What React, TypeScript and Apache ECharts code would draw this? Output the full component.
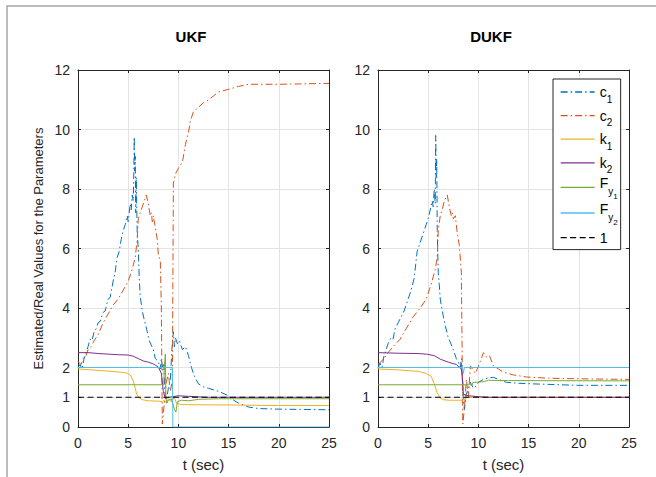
import React, { useEffect, useRef } from 'react';
import * as echarts from 'echarts';

type P = [number, number][];

const seriesNames = ['c1', 'c2', 'k1', 'k2', 'Fy1', 'Fy2', '1'];
const seriesColors = ['#0072BD', '#D95319', '#EDB120', '#7E2F8E', '#77AC30', '#4DBEEE', '#000000'];
const panelTitles = ['UKF', 'DUKF'];
const xTicks = [0, 5, 10, 15, 20, 25];
const yTicks = [0, 1, 2, 4, 6, 8, 10, 12];

const ukfC1: P = [[0,2.0],[0.2,2.1],[0.4,1.95],[0.6,2.3],[0.8,2.5],[1.0,2.7],[1.2,2.95],[1.4,2.9],[1.6,3.2],[1.8,3.3],[2.0,3.5],[2.2,3.55],[2.5,3.85],[2.7,3.9],[3.0,4.3],[3.2,4.35],[3.5,4.9],[3.7,5.2],[3.9,5.7],[4.1,5.9],[4.3,6.3],[4.5,6.6],[4.7,6.8],[4.9,7.1],[5.0,6.9],[5.2,7.5],[5.3,7.3],[5.4,7.8],[5.5,7.6],[5.55,8.3],[5.6,9.75],[5.65,8.6],[5.7,9.1],[5.75,7.2],[5.8,8.4],[5.9,6.5],[6.0,6.0],[6.1,5.0],[6.2,4.4],[6.4,3.9],[6.6,3.6],[6.9,3.2],[7.1,2.9],[7.3,2.75],[7.5,2.6],[7.7,2.3],[8.0,2.2],[8.2,1.95],[8.3,2.3],[8.45,1.9],[8.55,2.1],[8.65,1.2],[8.8,0.9],[9.0,1.3],[9.2,1.6],[9.35,2.6],[9.5,3.2],[9.6,2.7],[9.7,3.0],[9.9,2.8],[10.1,2.9],[10.4,2.6],[10.7,2.7],[11.0,2.4],[11.3,2.0],[11.6,1.7],[12.0,1.45],[12.5,1.35],[13.0,1.3],[14.0,1.2],[15.0,1.05],[15.5,0.9],[16.0,0.8],[17.0,0.67],[18.0,0.62],[20.0,0.6],[25.0,0.58]];
const ukfC2: P = [[0,2.2],[0.3,2.1],[0.5,2.3],[0.8,2.4],[1.0,2.6],[1.3,2.7],[1.6,2.9],[2.0,3.1],[2.5,3.5],[3.0,3.8],[3.5,4.1],[4.0,4.3],[4.5,4.6],[5.0,4.9],[5.4,5.3],[5.7,5.7],[5.9,6.3],[6.0,7.0],[6.2,7.2],[6.4,7.4],[6.6,7.6],[6.8,7.8],[7.0,7.5],[7.2,7.1],[7.3,7.2],[7.4,6.9],[7.5,7.1],[7.7,6.7],[7.9,6.3],[8.0,5.8],[8.2,5.6],[8.3,4.0],[8.4,0.1],[8.6,0.8],[8.8,1.5],[9.0,1.8],[9.2,1.2],[9.4,1.6],[9.5,8.2],[9.7,8.5],[10.0,8.7],[10.4,8.9],[10.7,9.5],[11.0,9.9],[11.2,10.3],[11.5,10.6],[12.0,10.75],[12.5,10.9],[13.0,11.0],[14.0,11.26],[15.0,11.35],[16.0,11.45],[17.0,11.52],[20.0,11.52],[25.0,11.55]];
const ukfK1: P = [[0,1.95],[1,1.93],[2,1.9],[3,1.88],[4,1.85],[4.8,1.82],[5.2,1.75],[5.5,1.55],[5.7,1.3],[5.85,1.1],[6.1,0.98],[6.4,0.92],[7,0.88],[8,0.87],[8.4,0.85],[8.6,0.9],[8.8,0.8],[9.0,0.95],[9.3,0.85],[9.6,1.0],[9.8,0.8],[10.2,0.76],[11,0.75],[15,0.74],[20,0.72],[25,0.72]];
const ukfK2: P = [[0,2.5],[1,2.5],[2,2.47],[3,2.45],[4,2.43],[5,2.42],[5.5,2.38],[6,2.3],[6.5,2.22],[7,2.18],[7.5,2.12],[8,2.02],[8.3,1.8],[8.5,1.2],[8.7,0.95],[9,1.0],[9.5,1.02],[10,1.05],[11,1.03],[13,1.0],[25,1.0]];
const ukfFy1: P = [[0,1.42],[8.55,1.42],[8.6,2.0],[8.7,2.45],[8.75,1.0],[8.85,0.8],[9.0,0.9],[9.3,0.95],[9.6,0.6],[9.75,0.5],[9.9,0.85],[10.3,0.9],[11,0.88],[12,0.93],[14,0.95],[25,0.95]];
const ukfFy2: P = [[0,2.0],[9.4,2.0],[9.45,0],[25,0]];
const ukfOne: P = [[0,1],[25,1]];

const dukfC1: P = [[0,2.0],[0.2,2.15],[0.4,2.0],[0.6,2.4],[0.8,2.6],[1.0,2.8],[1.3,3.0],[1.5,2.95],[1.7,3.3],[2.0,3.5],[2.3,3.7],[2.6,3.9],[3.0,4.3],[3.3,4.6],[3.6,5.0],[3.9,5.9],[4.2,6.2],[4.5,6.5],[4.8,6.8],[5.0,7.0],[5.2,7.3],[5.4,7.6],[5.5,7.4],[5.6,8.0],[5.7,7.5],[5.75,9.8],[5.8,8.4],[5.85,9.0],[5.9,6.6],[6.0,5.2],[6.1,4.8],[6.2,4.3],[6.4,3.9],[6.7,3.4],[7.0,3.0],[7.2,2.85],[7.5,2.6],[7.8,2.3],[8.0,2.2],[8.2,2.0],[8.3,2.3],[8.4,1.6],[8.5,0.9],[8.6,0.6],[8.8,1.1],[9.0,1.3],[9.2,1.5],[9.5,1.3],[9.7,1.35],[10.0,1.5],[10.5,1.6],[11.0,1.65],[11.5,1.67],[12.0,1.6],[12.8,1.5],[14.0,1.47],[15.4,1.45],[20,1.4],[25,1.4]];
const dukfC2: P = [[0,2.1],[0.3,2.2],[0.6,2.3],[1.0,2.5],[1.5,2.7],[2.2,2.95],[2.8,3.3],[3.5,3.7],[4.2,4.0],[4.8,4.3],[5.3,4.8],[5.7,5.3],[5.9,5.7],[6.0,6.6],[6.2,7.1],[6.4,7.3],[6.6,7.6],[6.9,7.8],[7.1,7.4],[7.3,7.1],[7.4,7.2],[7.5,7.0],[7.7,7.1],[7.9,6.5],[8.1,6.1],[8.3,5.2],[8.45,0.1],[8.6,0.6],[8.8,1.6],[9.0,1.0],[9.2,2.05],[9.5,1.9],[9.7,1.8],[10.0,2.05],[10.3,2.3],[10.5,2.5],[10.8,2.35],[11.1,2.4],[11.5,2.05],[12.0,1.95],[12.5,1.84],[13.5,1.75],[14.8,1.68],[17,1.64],[20,1.62],[25,1.6]];
const dukfK1: P = [[0,1.95],[2,1.92],[4,1.87],[4.8,1.8],[5.3,1.7],[5.6,1.45],[5.9,1.15],[6.2,0.97],[6.5,0.92],[7,0.9],[8,0.9],[8.4,0.9],[8.6,0.95],[9,1.0],[25,1.0]];
const dukfK2: P = [[0,2.5],[2,2.48],[4,2.47],[4.8,2.45],[5.6,2.4],[6.2,2.28],[7,2.18],[7.8,2.1],[8.3,1.95],[8.45,1.5],[8.5,1.1],[9,1.05],[10,1.02],[11,1.0],[25,1.0]];
const dukfFy1: P = [[0,1.42],[9.4,1.42],[9.45,1.5],[10.5,1.52],[11.0,1.57],[13,1.56],[25,1.55]];
const dukfFy2: P = [[0,2.0],[8.4,2.0],[8.5,1.8],[8.6,2.0],[25,2.0]];
const dukfOne: P = [[0,1],[25,1]];

const panelData: P[][] = [
  [ukfC1, ukfC2, ukfK1, ukfK2, ukfFy1, ukfFy2, ukfOne],
  [dukfC1, dukfC2, dukfK1, dukfK2, dukfFy1, dukfFy2, dukfOne],
];

const legendLabels: Record<string, string> = {
  c1: '{m|c}{s|1}',
  c2: '{m|c}{s|2}',
  k1: '{m|k}{s|1}',
  k2: '{m|k}{s|2}',
  Fy1: '{f|F}{fs|y}{fss|1}',
  Fy2: '{f|F}{fs|y}{fss|2}',
  '1': '{m|1}',
};

const FONT = '"Liberation Sans", Arial, Helvetica, sans-serif';
const AX = '#262626';
const GRIDC = '#e3e3e3';
const DASHDOT = [7, 3, 1.5, 3];

export default function App() {
  const ref = useRef<HTMLDivElement>(null);
  useEffect(() => {
    if (!ref.current) return;
    const chart = echarts.init(ref.current, undefined, { renderer: 'svg' });
    const gridLefts = [78, 378];
    const grids = gridLefts.map((l) => ({ left: l, top: 70, width: 251, height: 358, containLabel: false }));
    const xAxes: any[] = [];
    const yAxes: any[] = [];
    gridLefts.forEach((_, i) => {
      xAxes.push({
        type: 'value', gridIndex: i, position: 'bottom', min: 0, max: 25, interval: 5,
        axisLine: { show: true, onZero: false, lineStyle: { color: AX, width: 1 } },
        axisTick: { show: true, inside: true, length: 3, lineStyle: { color: AX }, customValues: xTicks },
        axisLabel: { show: true, color: AX, fontSize: 14, margin: 9, fontFamily: FONT, customValues: xTicks },
        splitLine: { show: true, lineStyle: { color: GRIDC, width: 1 } },
        name: 't (sec)', nameLocation: 'middle', nameGap: 30,
        nameTextStyle: { fontSize: 15, color: AX, fontFamily: FONT },
      });
      xAxes.push({
        type: 'value', gridIndex: i, position: 'top', min: 0, max: 25, interval: 5,
        axisLine: { show: true, onZero: false, lineStyle: { color: AX, width: 1 } },
        axisTick: { show: true, inside: true, length: 3, lineStyle: { color: AX } },
        axisLabel: { show: false },
        splitLine: { show: false },
      });
      yAxes.push({
        type: 'value', gridIndex: i, position: 'left', min: 0, max: 12, interval: 2,
        axisLine: { show: true, onZero: false, lineStyle: { color: AX, width: 1 } },
        axisTick: { show: true, inside: true, length: 3, lineStyle: { color: AX }, customValues: yTicks },
        axisLabel: { show: true, color: AX, fontSize: 14, margin: 8, fontFamily: FONT, customValues: yTicks },
        splitLine: { show: true, lineStyle: { color: GRIDC, width: 1 } },
        name: i === 0 ? 'Estimated/Real Values for the Parameters' : '',
        nameLocation: 'middle', nameGap: 33,
        nameTextStyle: { fontSize: 13, color: AX, fontFamily: FONT },
      });
      yAxes.push({
        type: 'value', gridIndex: i, position: 'right', min: 0, max: 12, interval: 2,
        axisLine: { show: true, onZero: false, lineStyle: { color: AX, width: 1 } },
        axisTick: { show: true, inside: true, length: 3, lineStyle: { color: AX }, customValues: yTicks },
        axisLabel: { show: false, customValues: yTicks },
        splitLine: { show: false },
      });
    });

    const series: any[] = [];
    panelData.forEach((arrs, pi) => {
      arrs.forEach((d, si) => {
        const dashType = si < 2 ? DASHDOT : si === 6 ? [6, 3.5] : 'solid';
        series.push({
          type: 'line', name: seriesNames[si], data: d,
          xAxisIndex: pi * 2, yAxisIndex: pi * 2,
          symbol: 'none', showSymbol: false, clip: true,
          color: seriesColors[si],
          lineStyle: { color: seriesColors[si], width: 1, type: dashType },
          emphasis: { disabled: true },
        });
      });
    });

    chart.setOption({
      animation: false,
      textStyle: { fontFamily: FONT },
      title: panelTitles.map((t, i) => ({
        text: t, left: i === 0 ? 191 : 491, top: 29, textAlign: 'center', padding: 0,
        textStyle: { fontSize: 15, fontWeight: 'bold', color: '#000', fontFamily: FONT },
      })),
      grid: grids,
      xAxis: xAxes,
      yAxis: yAxes,
      legend: {
        show: true, orient: 'vertical', left: 553, top: 79,
        data: seriesNames,
        itemWidth: 34, itemHeight: 24, itemGap: -0.4,
        padding: [1, 3, 0, 7],
        backgroundColor: '#ffffff', borderColor: AX, borderWidth: 1, borderRadius: 0,
        selectedMode: false,
        itemStyle: { opacity: 0, borderWidth: 0 },
        lineStyle: { width: 1.3 },
        formatter: (name: string) => legendLabels[name] ?? name,
        textStyle: {
          color: '#000', fontFamily: FONT,
          rich: {
            m: { fontSize: 14, lineHeight: 14, padding: [5, 0, 5, 0], fontFamily: FONT, color: '#000' },
            s: { fontSize: 10, lineHeight: 10, padding: [14, 0, 0, 0], fontFamily: FONT, color: '#000' },
            f: { fontSize: 14, lineHeight: 14, padding: [1, 0, 9, 0], fontFamily: FONT, color: '#000' },
            fs: { fontSize: 10, lineHeight: 10, padding: [11, 0, 3, 0], fontFamily: FONT, color: '#000' },
            fss: { fontSize: 8, lineHeight: 6, padding: [18, 0, 0, 0], fontFamily: FONT, color: '#000' },
          },
        },
      },
      graphic: [
        {
          type: 'rect', silent: true, z: -10,
          shape: { x: 7, y: 6, width: 700, height: 520 },
          style: { fill: 'none', stroke: '#a6a6a6', lineWidth: 1.5 },
        },
      ],
      series,
    });
    return () => chart.dispose();
  }, []);
  return (
    <div
      ref={ref}
      style={{ position: 'fixed', left: 0, top: 0, width: 656, height: 477, background: '#ffffff' }}
    />
  );
}
